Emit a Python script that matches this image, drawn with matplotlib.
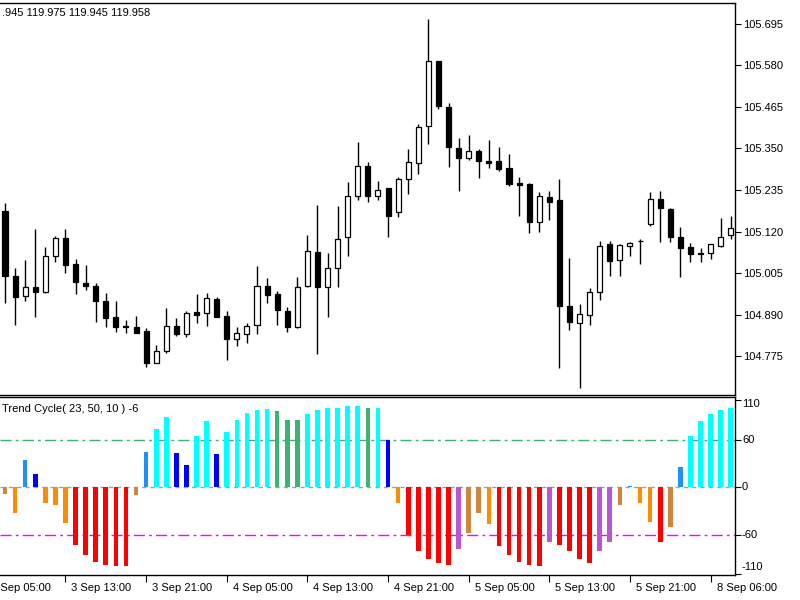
import matplotlib.pyplot as plt
import matplotlib.transforms as mtransforms
import numpy as np

plt.rcParams['font.family'] = ['Liberation Sans', 'DejaVu Sans']
plt.rcParams['font.size'] = 8

# H1 candles, 3 Sep 07:00 .. 8 Sep 07:00
opens = [105.177, 104.998, 104.941, 104.966, 104.952, 105.053, 105.103, 105.029, 104.977, 104.968,
         104.928, 104.882, 104.859, 104.856, 104.844, 104.757, 104.790, 104.858, 104.835, 104.896,
         104.893, 104.932, 104.886, 104.822, 104.837, 104.861, 104.970, 104.947, 104.901, 104.856,
         104.969, 105.064, 104.966, 105.018, 105.106, 105.217, 105.302, 105.217, 105.240, 105.175,
         105.266, 105.311, 105.412, 105.591, 105.466, 105.352, 105.325, 105.344, 105.315, 105.316,
         105.295, 105.254, 105.252, 105.146, 105.215, 105.207, 104.914, 104.867, 104.889, 104.952,
         105.085, 105.040, 105.081, 105.093, 105.141, 105.210, 105.182, 105.106, 105.078, 105.061,
         105.061, 105.081, 105.110]
highs = [105.198, 105.018, 105.041, 105.127, 105.078, 105.108, 105.127, 105.043, 105.026, 104.977,
         104.949, 104.928, 104.875, 104.886, 104.852, 104.806, 104.908, 104.880, 104.901, 104.947,
         104.949, 104.939, 104.901, 104.855, 104.866, 105.025, 104.991, 104.956, 104.910, 104.995,
         105.110, 105.194, 105.061, 105.191, 105.257, 105.369, 105.312, 105.260, 105.241, 105.272,
         105.348, 105.417, 105.708, 105.592, 105.475, 105.380, 105.386, 105.348, 105.374, 105.355,
         105.335, 105.272, 105.255, 105.230, 105.232, 105.265, 105.047, 104.918, 104.963, 105.094,
         105.094, 105.085, 105.092, 105.098, 105.229, 105.233, 105.184, 105.133, 105.087, 105.074,
         105.085, 105.157, 105.163]
lows = [104.921, 104.861, 104.928, 104.884, 104.949, 105.036, 105.004, 104.947, 104.958, 104.870,
        104.856, 104.842, 104.840, 104.838, 104.744, 104.755, 104.783, 104.831, 104.829, 104.867,
        104.858, 104.882, 104.764, 104.804, 104.812, 104.836, 104.921, 104.861, 104.841, 104.854,
        104.967, 104.781, 104.882, 104.966, 105.052, 105.207, 105.203, 105.207, 105.104, 105.159,
        105.223, 105.279, 105.363, 105.459, 105.300, 105.233, 105.318, 105.268, 105.297, 105.289,
        105.247, 105.164, 105.115, 105.118, 105.152, 104.741, 104.847, 104.686, 104.861, 104.930,
        104.997, 104.997, 105.052, 105.029, 105.136, 105.090, 105.090, 104.993, 105.035, 105.035,
        105.043, 105.078, 105.098]
closes = [104.997, 104.939, 104.967, 104.952, 105.053, 105.102, 105.028, 104.979, 104.969, 104.928,
          104.881, 104.856, 104.855, 104.840, 104.755, 104.788, 104.858, 104.835, 104.893, 104.890,
          104.935, 104.884, 104.821, 104.838, 104.858, 104.970, 104.944, 104.903, 104.856, 104.967,
          105.067, 104.966, 105.020, 105.100, 105.218, 105.302, 105.219, 105.235, 105.163, 105.265,
          105.312, 105.410, 105.592, 105.468, 105.353, 105.325, 105.344, 105.314, 105.311, 105.292,
          105.251, 105.249, 105.146, 105.218, 105.203, 104.914, 104.870, 104.891, 104.953, 105.081,
          105.038, 105.082, 105.087, 105.095, 105.210, 105.186, 105.104, 105.074, 105.057, 105.058,
          105.085, 105.106, 105.129]

cycle = [-9, -33, 34, 16, -20, -23, -45, -73, -86, -94,
         -98, -99, -99, -10, 45, 74, 88, 43, 28, 65,
         83, 42, 69, 85, 94, 97, 99, 96, 85, 85,
         92, 97, 100, 100, 102, 102, 100, 100, 60, -20,
         -60, -80, -91, -96, -98, -78, -58, -33, -47, -74,
         -86, -94, -98, -99, -69, -73, -81, -90, -96, -81,
         -69, -23, 2, -20, -44, -69, -50, 26, 64, 83,
         92, 97, 100]
cycle_state = ['pe', 'or', 'db', 'bl', 'or', 'or', 'or', 'rd', 'rd', 'rd',
               'rd', 'rd', 'rd', 'pe', 'db', 'cy', 'cy', 'bl', 'bl', 'cy',
               'cy', 'bl', 'cy', 'cy', 'cy', 'cy', 'cy', 'gr', 'gr', 'gr',
               'cy', 'cy', 'cy', 'cy', 'cy', 'cy', 'gr', 'cy', 'bl', 'or',
               'rd', 'rd', 'rd', 'rd', 'rd', 'oc', 'pe', 'pe', 'or', 'rd',
               'rd', 'rd', 'rd', 'rd', 'oc', 'rd', 'rd', 'rd', 'rd', 'oc',
               'oc', 'pe', 'db', 'or', 'or', 'rd', 'pe', 'db', 'cy', 'cy',
               'cy', 'cy', 'cy']
state_colors = {'pe': '#CD853F', 'or': '#FF8C00', 'db': '#1E90FF', 'bl': '#0000FF',
                'rd': '#FF0000', 'cy': '#00FFFF', 'gr': '#3CB371', 'oc': '#BA55D3'}

price_ticks = [105.695, 105.580, 105.465, 105.350, 105.235, 105.120, 105.005, 104.890, 104.775]
cycle_ticks = [110, 60, 0, -60, -110]
time_pos = [-2, 6, 14, 22, 30, 38, 46, 54, 62, 70]
time_labels = ['3 Sep 05:00', '3 Sep 13:00', '3 Sep 21:00', '4 Sep 05:00', '4 Sep 13:00',
               '4 Sep 21:00', '5 Sep 05:00', '5 Sep 13:00', '5 Sep 21:00', '8 Sep 06:00']

x = np.arange(len(opens))
o = np.array(opens); c = np.array(closes)

fig = plt.figure(figsize=(8, 6), dpi=100)
ax1 = fig.add_axes([0, 0.3422, 0.91875, 0.6528])
ax2 = fig.add_axes([0, 0.04167, 0.91875, 0.29617])

for ax in (ax1, ax2):
    ax.set_xlim(-0.496, 72.42)
    ax.spines['left'].set_visible(False)
    for s in ('top', 'right', 'bottom'):
        ax.spines[s].set_linewidth(1)
    ax.yaxis.tick_right()
    ax.tick_params(axis='y', direction='out', length=4, width=0.8, pad=2, labelsize=8)

# candles
up = c >= o
ax1.vlines(x, lows, highs, color='black', linewidth=1, zorder=1)
ax1.bar(x, np.where(np.abs(c - o) < 0.001, 0.001, c - o), bottom=o, width=0.5,
        color=np.where(up, 'white', 'black'), edgecolor='black', linewidth=0.9, zorder=2)
ax1.set_ylim(104.668, 105.753)
ax1.set_yticks(price_ticks)
ax1.set_yticklabels(['%.3f' % t for t in price_ticks])
ax1.set_xticks([])

fig.text(2 / 800, 1 - 13 / 600, '.945 119.975 119.945 119.958', ha='left', va='center', fontsize=8)

# indicator
ax2.set_ylim(-110.8, 113.4)
ax2.axhline(0, color='#A0A0A0', linewidth=1, linestyle=(0, (3, 3)), zorder=0)
ax2.axhline(60, color='#3CB371', linewidth=1, linestyle=(0, (8, 3, 2, 3)), zorder=0)
ax2.axhline(-60, color='#FF00FF', linewidth=1, linestyle=(0, (8, 3, 2, 3)), zorder=0)
ax2.bar(x, cycle, width=0.46, color=[state_colors[s] for s in cycle_state], zorder=2)
ax2.set_yticks(cycle_ticks)
ax2.set_yticklabels([])
label_dy = [-4, 0, 0, 0, 7]
for t, dy in zip(cycle_ticks, label_dy):
    tr = mtransforms.offset_copy(ax2.get_yaxis_transform(), fig=fig, x=7, y=dy, units='dots')
    ax2.text(1, t, str(t), transform=tr, ha='left', va='center', fontsize=8, clip_on=False)
ax2.text(2 / 735, 0.935, 'Trend Cycle( 23, 50, 10 ) -6', transform=ax2.transAxes,
         ha='left', va='center', fontsize=8)

ax2.set_xticks([p for p in time_pos if p >= 0])
ax2.set_xticklabels([])
ax2.tick_params(axis='x', direction='out', length=5, width=0.8)
for p, lab in zip(time_pos, time_labels):
    tr = mtransforms.offset_copy(ax2.get_xaxis_transform(), fig=fig, x=6, y=-13, units='dots')
    ax2.text(p, 0, lab, transform=tr, ha='left', va='center', fontsize=8, clip_on=False)

fig.savefig('out.png', dpi=100)
